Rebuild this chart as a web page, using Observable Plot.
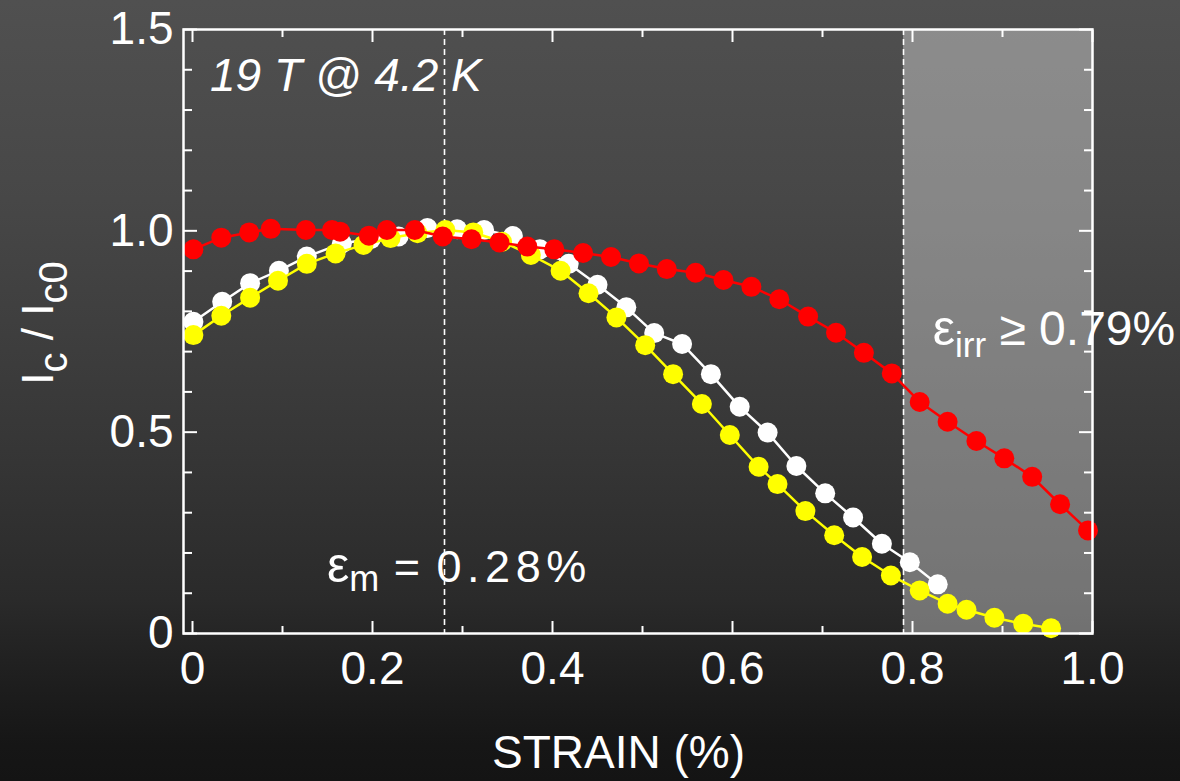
<!DOCTYPE html>
<html><head><meta charset="utf-8">
<script src="https://cdn.jsdelivr.net/npm/d3@7"></script>
<script src="https://cdn.jsdelivr.net/npm/@observablehq/plot@0.6"></script>
<style>
html,body{margin:0;padding:0;}
body{width:1180px;height:781px;overflow:hidden;
background:linear-gradient(to bottom,#505050 0px,#474747 200px,#3d3d3d 350px,#363636 450px,#2a2a2a 600px,#242424 640px,#1d1d1d 690px,#161616 745px,#141414 781px);
font-family:"Liberation Sans",Arial,sans-serif;}
svg{display:block;}
</style></head><body><div id="chart"></div>
<script>
// ---- data ----
const redStrain = [0.001,0.032,0.063,0.087,0.126,0.155,0.164,0.196,0.216,0.247,0.278,0.310,0.341,0.372,0.402,0.434,0.465,0.496,0.527,0.559,0.590,0.621,0.652,0.684,0.715,0.746,0.777,0.808,0.839,0.871,0.902,0.933,0.964,0.995];
const redIc = [0.954,0.983,0.996,1.005,1.002,1.002,0.998,0.988,1.002,1.002,0.986,0.979,0.971,0.961,0.954,0.945,0.935,0.919,0.905,0.896,0.878,0.861,0.830,0.787,0.747,0.697,0.646,0.575,0.526,0.478,0.435,0.389,0.321,0.256];
const whiteStrain = [0.001,0.033,0.064,0.096,0.127,0.166,0.198,0.229,0.261,0.294,0.324,0.356,0.386,0.418,0.450,0.482,0.513,0.544,0.576,0.608,0.639,0.671,0.703,0.734,0.766,0.797,0.828];
const whiteIc = [0.774,0.824,0.870,0.901,0.936,0.969,0.979,0.986,1.007,1.004,1.002,0.987,0.954,0.918,0.866,0.810,0.746,0.719,0.644,0.563,0.499,0.416,0.348,0.288,0.223,0.177,0.122];
const yellowStrain = [0.001,0.032,0.064,0.095,0.127,0.159,0.190,0.220,0.250,0.281,0.312,0.344,0.376,0.409,0.440,0.471,0.503,0.534,0.566,0.597,0.629,0.650,0.681,0.713,0.744,0.776,0.808,0.839,0.860,0.891,0.923,0.954];
const yellowIc = [0.741,0.789,0.834,0.876,0.918,0.944,0.965,0.982,0.994,1.002,0.996,0.973,0.940,0.901,0.845,0.785,0.716,0.644,0.570,0.493,0.414,0.371,0.304,0.244,0.190,0.144,0.107,0.074,0.059,0.039,0.024,0.013];

const epsM = 0.28;     // strain at max Ic
const epsIrr = 0.79;   // irreversible strain limit
const xMajorTicks = [0, 0.2, 0.4, 0.6, 0.8, 1.0];
const xMinorTicks = [0.1, 0.3, 0.5, 0.7, 0.9];
const yMajorTicks = [0, 0.5, 1.0, 1.5];
const yMinorTicks = [0.1,0.2,0.3,0.4,0.6,0.7,0.8,0.9,1.1,1.2,1.3,1.4];
const conditionLabel = "19 T @ 4.2 K";
const xTitle = "STRAIN (%)";

const toRows = (xs, ys) => xs.map((x, i) => ({x, y: ys[i]}));
const series = [
  {rows: toRows(whiteStrain, whiteIc), color: "#ffffff"},
  {rows: toRows(yellowStrain, yellowIc), color: "#ffff00"},
  {rows: toRows(redStrain, redIc), color: "#ff0000"}
];

const fmt = d => d === 0 ? "0" : d.toFixed(1);
const tickAxis = (k, anchor, ticks, size) =>
  (k === "x" ? Plot.axisX : Plot.axisY)(ticks, {anchor, tickSize: -size, fill: "none", stroke: "white", strokeWidth: 2, label: null});

const seriesMarks = series.flatMap(s => [
  Plot.line(s.rows, {x: "x", y: "y", stroke: s.color, strokeWidth: 2.5}),
  Plot.dot(s.rows, {x: "x", y: "y", fill: s.color, r: 10})
]);

const plot = Plot.plot({
  width: 1180, height: 781,
  marginLeft: 183, marginRight: 88, marginTop: 29, marginBottom: 148,
  x: {domain: [-0.01, 1.0]},
  y: {domain: [0, 1.5]},
  style: {background: "transparent", color: "white", fontFamily: "'Liberation Sans', Arial, sans-serif"},
  marks: [
    Plot.rect([epsIrr], {x1: d => d, x2: 1.0, y1: 0, y2: 1.5, fill: "white", fillOpacity: 0.35}),
    Plot.ruleX([epsM, epsIrr], {stroke: "white", strokeWidth: 1.6, strokeDasharray: "6,4"}),
    ...seriesMarks,
    Plot.frame({stroke: "white", strokeWidth: 2.5}),
    tickAxis("x", "bottom", xMajorTicks, 12),
    tickAxis("x", "bottom", xMinorTicks, 7),
    tickAxis("x", "top", xMajorTicks, 12),
    tickAxis("x", "top", xMinorTicks, 7),
    tickAxis("y", "left", yMajorTicks, 14),
    tickAxis("y", "left", yMinorTicks, 9),
    tickAxis("y", "right", yMajorTicks, 14),
    tickAxis("y", "right", yMinorTicks, 9),
    Plot.axisX(xMajorTicks, {anchor: "bottom", tickSize: 0, tickPadding: 18, tickFormat: fmt, fontSize: 46, fill: "white", label: null}),
    Plot.axisY(yMajorTicks, {anchor: "left", tickSize: 0, tickPadding: 10, tickFormat: fmt, fontSize: 46, fill: "white", label: null})
  ]
});

document.getElementById("chart").appendChild(plot);

const X = plot.scale("x").apply, Y = plot.scale("y").apply;
const svg = d3.select(plot);
const g = svg.append("g").attr("fill", "white").attr("text-anchor", "start")
  .attr("font-family", "'Liberation Sans', Arial, sans-serif");

// condition label
g.append("text").attr("x", X(0.02)).attr("y", Y(1.346))
  .attr("font-size", 46).attr("font-style", "italic").text(conditionLabel);

// eps_m annotation
const tm = g.append("text").attr("x", X(0.15)).attr("y", Y(0.127)).attr("font-size", 45);
tm.append("tspan").attr("font-size", 50).text("ε");
tm.append("tspan").attr("font-size", 36).attr("dy", 9).text("m");
tm.append("tspan").attr("dy", -9).attr("letter-spacing", 2).text(" = ");
tm.append("tspan").attr("letter-spacing", 5.5).text(epsM.toFixed(2) + "%");

// eps_irr annotation
const ti = g.append("text").attr("x", X(0.823)).attr("y", Y(0.716)).attr("font-size", 48);
ti.append("tspan").attr("font-size", 50).text("ε");
ti.append("tspan").attr("font-size", 35).attr("dy", 12).text("irr");
ti.append("tspan").attr("dy", -12).text(" ≥ " + epsIrr.toFixed(2) + "%");

// y axis title
const ty = g.append("text").attr("transform", `translate(53,${Y(0.77)}) rotate(-90)`)
  .attr("text-anchor", "middle").attr("font-size", 44);
ty.append("tspan").text("I");
ty.append("tspan").attr("font-size", 40).attr("dy", 14).text("c");
ty.append("tspan").attr("dy", -14).text(" / I");
ty.append("tspan").attr("font-size", 40).attr("dy", 14).text("c0");

// x axis title
g.append("text").attr("x", X(0.474)).attr("y", 768).attr("text-anchor", "middle")
  .attr("font-size", 46).text(xTitle);
</script>
</body></html>
